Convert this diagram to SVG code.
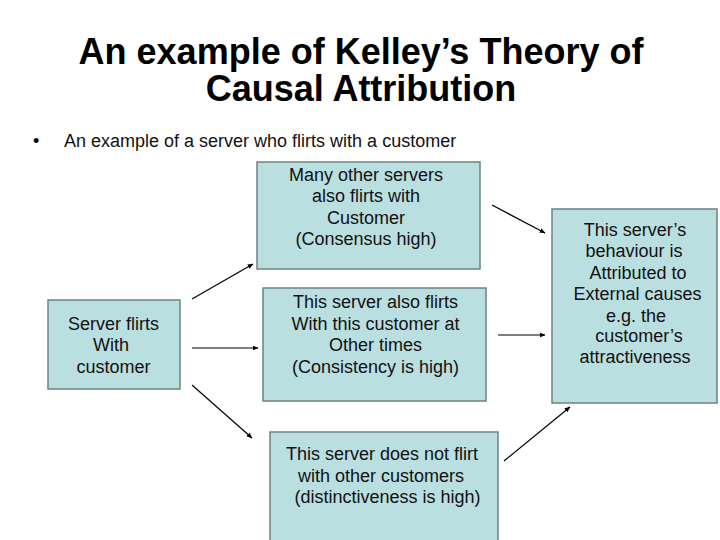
<svg xmlns="http://www.w3.org/2000/svg" width="720" height="540" viewBox="0 0 720 540">
<defs>
<style>
.box{fill:#badfe1;stroke:#6e8283;stroke-width:1.5}
.t{font-family:"Liberation Sans",Arial,sans-serif;font-size:18px;fill:#111;text-anchor:middle}
.title{font-family:"Liberation Sans",Arial,sans-serif;font-size:36px;font-weight:bold;fill:#000;text-anchor:middle}
.c{stroke:#000;stroke-width:1.2;fill:none;marker-end:url(#ah)}
</style>
<marker id="ah" viewBox="0 0 10 10" refX="9" refY="5" markerWidth="6" markerHeight="6" orient="auto" markerUnits="userSpaceOnUse"><path d="M0,1 L10,5 L0,9 z" fill="#000"/></marker>
</defs>
<rect width="720" height="540" fill="#fff"/>
<g id="title">
<text class="title" x="361" y="64">An example of Kelley’s Theory of</text>
<text class="title" x="361" y="101">Causal Attribution</text>
</g>
<g id="bullet">
<text x="33" y="147" font-family="Liberation Sans,Arial,sans-serif" font-size="18">•</text>
<text x="64" y="147" font-family="Liberation Sans,Arial,sans-serif" font-size="18" fill="#111">An example of a server who flirts with a customer</text>
</g>
<g id="start">
<rect class="box" x="48" y="300" width="132" height="89"/>
<text class="t" x="113.5" y="330">Server flirts</text>
<text class="t" x="111" y="351">With</text>
<text class="t" x="113.5" y="373">customer</text>
</g>
<g id="consensus">
<rect class="box" x="257" y="162" width="223" height="107"/>
<text class="t" x="366" y="181">Many other servers</text>
<text class="t" x="366" y="202">also flirts with</text>
<text class="t" x="366" y="224">Customer</text>
<text class="t" x="366" y="245">(Consensus high)</text>
</g>
<g id="consistency">
<rect class="box" x="263" y="288" width="223" height="113"/>
<text class="t" x="375.5" y="308">This server also flirts</text>
<text class="t" x="375.5" y="330">With this customer at</text>
<text class="t" x="375.5" y="351">Other times</text>
<text class="t" x="375.5" y="373">(Consistency is high)</text>
</g>
<g id="distinctiveness">
<rect class="box" x="270" y="432" width="228" height="110"/>
<text class="t" x="382" y="460">This server does not flirt</text>
<text class="t" x="381" y="482">with other customers</text>
<text class="t" x="387.5" y="503">(distinctiveness is high)</text>
</g>
<g id="result">
<rect class="box" x="552" y="209" width="165" height="194"/>
<text class="t" x="635" y="236">This server’s</text>
<text class="t" x="634" y="257">behaviour is</text>
<text class="t" x="638" y="279">Attributed to</text>
<text class="t" x="637.5" y="300">External causes</text>
<text class="t" x="636" y="322">e.g. the</text>
<text class="t" x="639" y="342">customer’s</text>
<text class="t" x="635" y="363">attractiveness</text>
</g>
<g id="connectors">
<line class="c" x1="192" y1="299" x2="253" y2="264"/>
<line class="c" x1="192" y1="348" x2="258" y2="348"/>
<line class="c" x1="192" y1="385" x2="252" y2="438"/>
<line class="c" x1="492" y1="205" x2="545" y2="233"/>
<line class="c" x1="498" y1="335" x2="545" y2="335"/>
<line class="c" x1="504" y1="461" x2="570" y2="407"/>
</g>
</svg>
